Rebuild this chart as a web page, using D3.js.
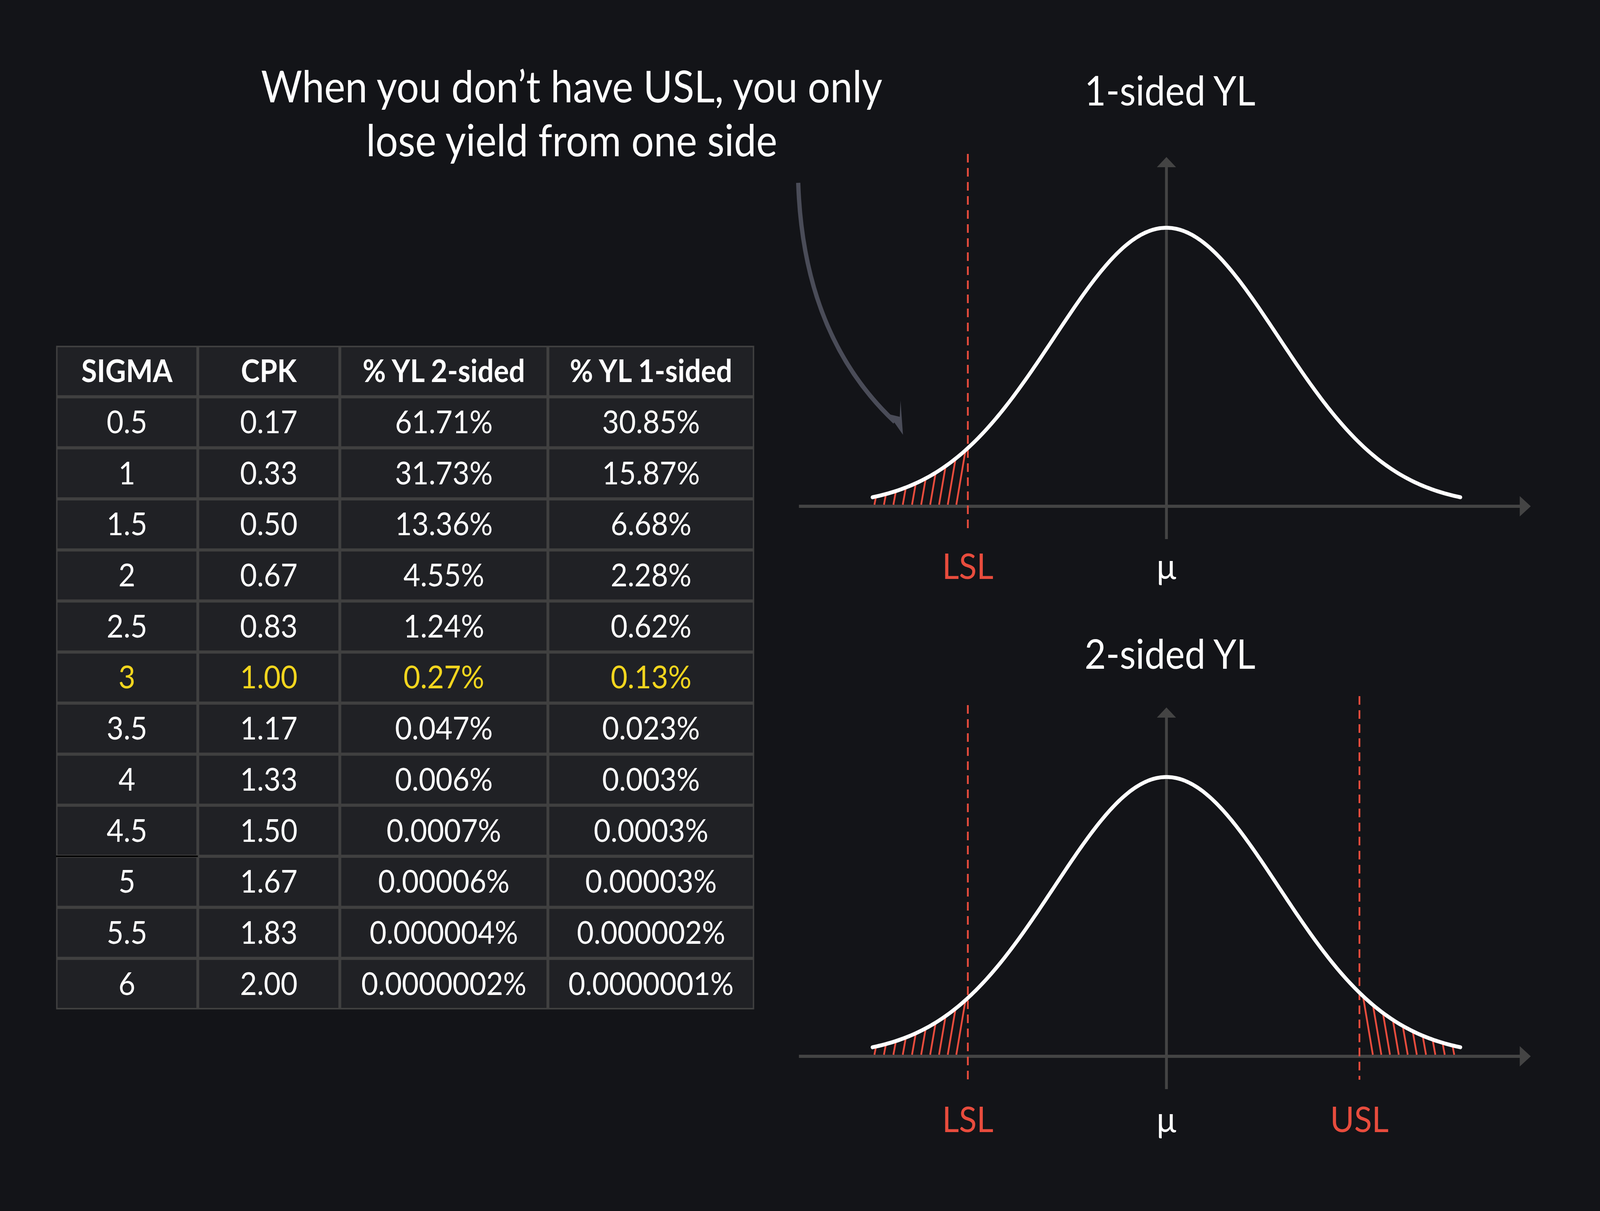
<!DOCTYPE html>
<html><head><meta charset="utf-8">
<script src="https://cdn.jsdelivr.net/npm/d3@7"></script>
<style>html,body{margin:0;padding:0;overflow:hidden;background:#131418}svg{display:block;width:100vw;height:100vh}</style>
</head><body><svg id="c" viewBox="0 0 4506 3100" preserveAspectRatio="none"></svg>
<script>
const headers = ["SIGMA","CPK","% YL 2-sided","% YL 1-sided"];
const sigma = ["0.5","1","1.5","2","2.5","3","3.5","4","4.5","5","5.5","6"];
const cpk = ["0.17","0.33","0.50","0.67","0.83","1.00","1.17","1.33","1.50","1.67","1.83","2.00"];
const yl2 = ["61.71%","31.73%","13.36%","4.55%","1.24%","0.27%","0.047%","0.006%","0.0007%","0.00006%","0.000004%","0.0000002%"];
const yl1 = ["30.85%","15.87%","6.68%","2.28%","0.62%","0.13%","0.023%","0.003%","0.0003%","0.00003%","0.000002%","0.0000001%"];
const highlightSigma = "3";
const lslZ = -1.77, uslZ = 1.72, tailZ = 2.62;

const svg = d3.select("#c");
svg.append("rect").attr("width",4506).attr("height",3100).attr("fill","#131418");
const FONT = "Lato, 'Open Sans', sans-serif";

// ---- table
const colEdges = [158,557,957,1543,2124];
const rows = [headers].concat(sigma.map((s,i)=>[s,cpk[i],yl2[i],yl1[i]]));
const yRow = d3.scaleBand().domain(d3.range(rows.length)).range([885,2584]);
const tbl = svg.append("g");
tbl.append("rect").attr("x",colEdges[0]).attr("y",885).attr("width",colEdges[4]-colEdges[0]).attr("height",2584-885).attr("fill","#404040");
rows.forEach((r,i)=>{
  r.forEach((t,j)=>{
    const x0=colEdges[j], x1=colEdges[j+1];
    tbl.append("rect").attr("x",x0+4).attr("y",yRow(i)+4).attr("width",x1-x0-8).attr("height",yRow.bandwidth()-8).attr("fill","#202125");
    const hl = i>0 && r[0]===highlightSigma;
    tbl.append("text").attr("x",(x0+x1)/2).attr("y",yRow(i)+yRow.bandwidth()/2+28)
      .attr("text-anchor","middle").attr("font-family",FONT).attr("font-size",i===0?80:82)
      .attr("font-weight",i===0?700:400).attr("fill",hl?"#f2d51e":"#ffffff").text(t);
  });
});
tbl.append("line").attr("x1",158).attr("x2",557).attr("y1",yRow(10)).attr("y2",yRow(10)).attr("stroke","#000").attr("stroke-width",4);

// ---- annotation
svg.append("text").attr("x",1610).attr("y",262).attr("text-anchor","middle").attr("font-family",FONT).attr("font-size",112).attr("fill","#fff").text("When you don’t have USL, you only");
svg.append("text").attr("x",1610).attr("y",400).attr("text-anchor","middle").attr("font-family",FONT).attr("font-size",112).attr("fill","#fff").text("lose yield from one side");
svg.append("path").attr("d","M2248,468 Q2262,860 2520,1080").attr("fill","none").attr("stroke","#4a4c58").attr("stroke-width",12);
svg.append("path").attr("d","M2543,1113 L2502,1060 L2534,1067 L2536,1025 Z").attr("fill","#4a4c58");

// ---- bell charts
function bell(cfg){
  const g = svg.append("g");
  const x = d3.scaleLinear().domain([-1,1]).range([3285-316,3285+316]);
  const pdf = z=>Math.exp(-z*z/2);
  const y = d3.scaleLinear().domain([0,1]).range([cfg.base, cfg.peak]);
  g.append("line").attr("x1",2250).attr("x2",4290).attr("y1",cfg.base).attr("y2",cfg.base).attr("stroke","#444").attr("stroke-width",8);
  g.append("path").attr("d",`M4311,${cfg.base} L4280,${cfg.base-26} L4280,${cfg.base+26} Z`).attr("fill","#444");
  g.append("line").attr("x1",3285).attr("x2",3285).attr("y1",cfg.vTop+20).attr("y2",cfg.vBot).attr("stroke","#444").attr("stroke-width",8);
  g.append("path").attr("d",`M3285,${cfg.vTop} L3258,${cfg.vTop+26} L3312,${cfg.vTop+26} Z`).attr("fill","#444");
  const hatch = (a,b,dir)=>{
    for(let px=x(a)+10; px<x(b)-6; px+=28){
      const z=x.invert(px); const top=y(pdf(z));
      const h=cfg.base-top; const dx=dir*h*0.18;
      g.append("line").attr("x1",px-dx).attr("y1",cfg.base-4).attr("x2",px).attr("y2",top).attr("stroke","#e84c3d").attr("stroke-width",5);
    }
  };
  hatch(-tailZ, lslZ, 1);
  if(cfg.usl!==undefined) hatch(uslZ, tailZ, -1);
  const spec=(z,lab,y1)=>{
    g.append("line").attr("x1",x(z)).attr("x2",x(z)).attr("y1",y1).attr("y2",cfg.base+60).attr("stroke","#e84c3d").attr("stroke-width",5).attr("stroke-dasharray","22,14");
    g.append("text").attr("x",x(z)).attr("y",cfg.lab).attr("text-anchor","middle").attr("font-family",FONT).attr("font-size",92).attr("fill","#e84c3d").text(lab);
  };
  spec(lslZ,"LSL",cfg.lslTop);
  if(cfg.usl!==undefined) spec(uslZ,"USL",cfg.usl);
  g.append("text").attr("x",3285).attr("y",cfg.lab).attr("text-anchor","middle").attr("font-family",FONT).attr("font-size",92).attr("fill","#fff").text("μ");
  const pts=d3.range(-tailZ,tailZ+0.001,0.02);
  g.append("path").attr("d",d3.line().x(z=>x(z)).y(z=>y(pdf(z))).curve(d3.curveBasis)(pts)).attr("fill","none").attr("stroke","#fff").attr("stroke-width",10).attr("stroke-linecap","round");
  g.append("text").attr("x",3295).attr("y",cfg.titleY).attr("text-anchor","middle").attr("font-family",FONT).attr("font-size",104).attr("fill","#fff").text(cfg.title);
}
bell({base:1296,peak:583,vTop:402,vBot:1380,lslTop:394,lab:1482,titleY:270,title:"1-sided YL"});
bell({base:2704,peak:1989,vTop:1811,vBot:2788,lslTop:1805,usl:1782,lab:2898,titleY:1712,title:"2-sided YL"});
</script></body></html>
